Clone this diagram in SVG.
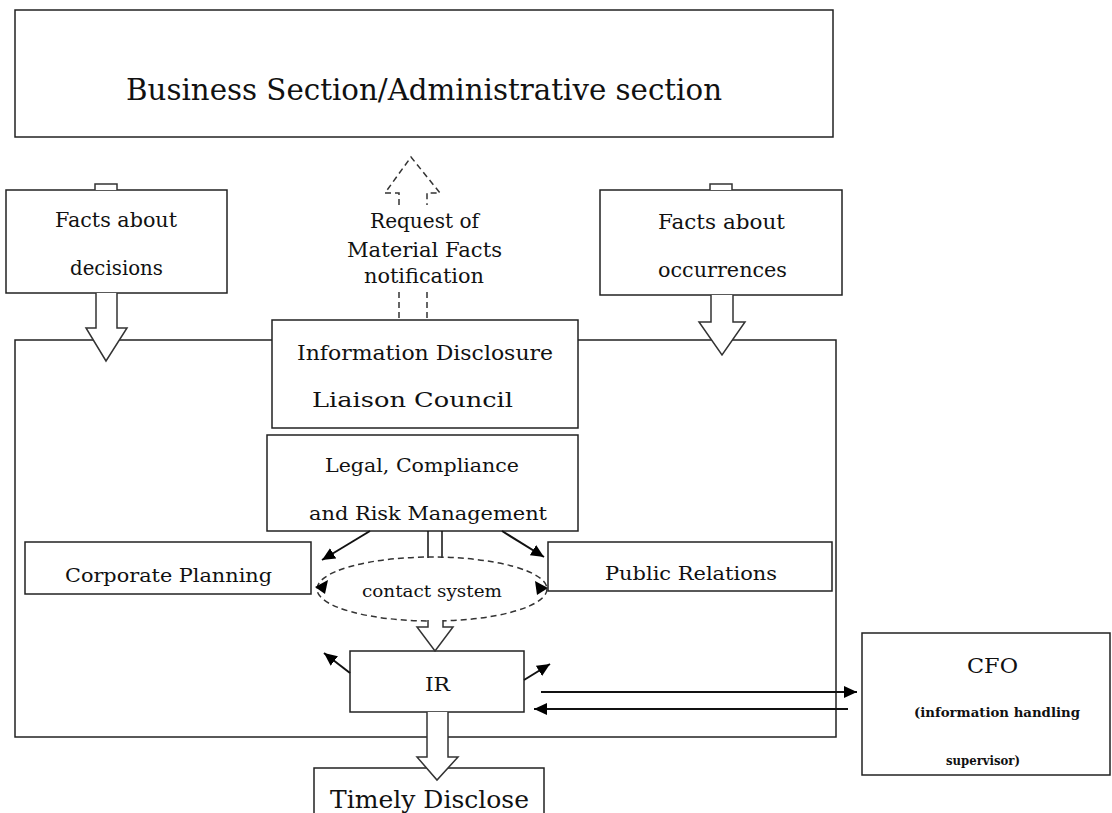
<svg xmlns="http://www.w3.org/2000/svg" width="1112" height="813" viewBox="0 0 1112 813">
<defs>
<style>
.box{fill:#fff;stroke:#222;stroke-width:1.5}
.t{font-family:"DejaVu Serif","Liberation Serif",serif;fill:#111}
.hollow{fill:#fff;stroke:#333;stroke-width:1.5;stroke-linejoin:miter}
.ln{fill:none;stroke:#111;stroke-width:2}
.dash{fill:none;stroke:#333;stroke-width:1.5;stroke-dasharray:6,4}
</style>
<marker id="ah" markerUnits="userSpaceOnUse" markerWidth="14" markerHeight="12" refX="13" refY="6" orient="auto">
<path d="M0,0 L13,6 L0,12 z" fill="#000"/>
</marker>
</defs>

<g id="container">
<rect class="box" x="15" y="340" width="821" height="397"/>
</g>

<g id="business">
<rect class="box" x="15" y="10" width="818" height="127"/>
<text class="t" x="126" y="100" font-size="29" textLength="596" lengthAdjust="spacingAndGlyphs">Business Section/Administrative section</text>
</g>

<g id="facts-decisions">
<rect class="box" x="6" y="190" width="221" height="103"/>
<text class="t" x="55" y="227" font-size="20" textLength="122" lengthAdjust="spacingAndGlyphs">Facts about</text>
<text class="t" x="70" y="275" font-size="20" textLength="93" lengthAdjust="spacingAndGlyphs">decisions</text>
</g>

<g id="request-label">
<text class="t" x="370" y="228" font-size="20" textLength="109" lengthAdjust="spacingAndGlyphs">Request of</text>
<text class="t" x="347" y="257" font-size="20" textLength="155" lengthAdjust="spacingAndGlyphs">Material Facts</text>
<text class="t" x="364" y="283" font-size="20" textLength="120" lengthAdjust="spacingAndGlyphs">notification</text>
</g>

<g id="facts-occurrences">
<rect class="box" x="600" y="190" width="242" height="105"/>
<text class="t" x="658" y="229" font-size="20" textLength="127" lengthAdjust="spacingAndGlyphs">Facts about</text>
<text class="t" x="658" y="277" font-size="20" textLength="129" lengthAdjust="spacingAndGlyphs">occurrences</text>
</g>

<g id="council">
<rect class="box" x="272" y="320" width="306" height="108"/>
<text class="t" x="297" y="360" font-size="20" textLength="256" lengthAdjust="spacingAndGlyphs">Information Disclosure</text>
<text class="t" x="312" y="407" font-size="20" textLength="201" lengthAdjust="spacingAndGlyphs">Liaison Council</text>
</g>

<g id="legal">
<rect class="box" x="267" y="435" width="311" height="96"/>
<text class="t" x="325" y="472" font-size="19" textLength="194" lengthAdjust="spacingAndGlyphs">Legal, Compliance</text>
<text class="t" x="309" y="520" font-size="19" textLength="238" lengthAdjust="spacingAndGlyphs">and Risk Management</text>
</g>

<g id="corporate-planning">
<rect class="box" x="25" y="542" width="286" height="52"/>
<text class="t" x="65" y="582" font-size="19" textLength="207" lengthAdjust="spacingAndGlyphs">Corporate Planning</text>
</g>

<g id="public-relations">
<rect class="box" x="548" y="542" width="284" height="49"/>
<text class="t" x="605" y="580" font-size="19" textLength="172" lengthAdjust="spacingAndGlyphs">Public Relations</text>
</g>

<g id="contact-system">
<text class="t" x="362" y="597" font-size="17" textLength="140" lengthAdjust="spacingAndGlyphs">contact system</text>
</g>

<g id="ir">
<rect class="box" x="350" y="651" width="174" height="61"/>
<text class="t" x="425" y="691" font-size="19" textLength="25" lengthAdjust="spacingAndGlyphs">IR</text>
</g>

<g id="timely">
<rect class="box" x="314" y="768" width="230" height="60"/>
<text class="t" x="330" y="808" font-size="25" textLength="199" lengthAdjust="spacingAndGlyphs">Timely Disclose</text>
</g>

<g id="cfo">
<rect class="box" x="862" y="633" width="248" height="142"/>
<text class="t" x="967" y="673" font-size="21" textLength="51" lengthAdjust="spacingAndGlyphs">CFO</text>
<text class="t" x="914" y="717" font-size="13" font-weight="bold" textLength="166" lengthAdjust="spacingAndGlyphs">(information handling</text>
<text class="t" x="946" y="765" font-size="13" font-weight="bold" textLength="74" lengthAdjust="spacingAndGlyphs">supervisor)</text>
</g>

<g id="connectors">
<path class="hollow" d="M95,190 V184 H117 V190"/>
<path class="hollow" d="M96,293 V328 H86 L106,361 L127,328 H117 V293"/>
<path class="hollow" d="M710,190 V184 H732 V190"/>
<path class="hollow" d="M711,295 V322 H699 L722,355 L745,322 H733 V295"/>
<path class="dash" d="M399,205 V193 H385 L411,157 L440,193 H427 V205"/>
<path class="dash" d="M399,292 V320 M427,292 V320"/>
<line class="ln" x1="370" y1="531" x2="322" y2="560" marker-end="url(#ah)"/>
<line class="ln" x1="502" y1="531" x2="544" y2="557" marker-end="url(#ah)"/>
<path class="ln" style="stroke-width:1.5" d="M428,531 V558 M442,531 V558"/>
<ellipse class="dash" cx="432" cy="589" rx="115" ry="32"/>
<path d="M315,587 L328,580 L325,594 z" fill="#000"/>
<path d="M548,588 L535,581 L537,595 z" fill="#000"/>
<path class="hollow" d="M428,620 V627 H417 L435,651 L453,627 H443 V620"/>
<line class="ln" x1="350" y1="673" x2="324" y2="653" marker-end="url(#ah)"/>
<line class="ln" x1="524" y1="680" x2="550" y2="664" marker-end="url(#ah)"/>
<path class="hollow" d="M427,712 V757 H417 L437,780 L458,757 H448 V712"/>
<line class="ln" x1="541" y1="692" x2="857" y2="692" marker-end="url(#ah)"/>
<line class="ln" x1="848" y1="709" x2="534" y2="709" marker-end="url(#ah)"/>
</g>
</svg>
